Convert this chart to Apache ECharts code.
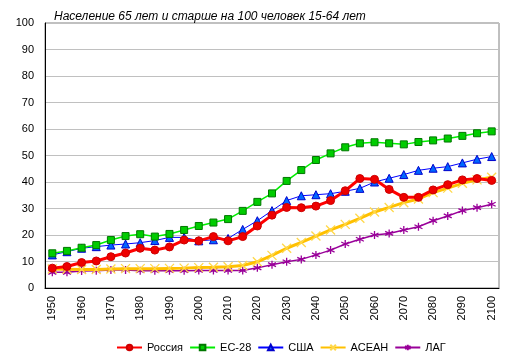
<!DOCTYPE html>
<html><head><meta charset="utf-8">
<script src="https://cdn.jsdelivr.net/npm/echarts@6/dist/echarts.min.js"></script>
<style>html,body{margin:0;padding:0;background:#fff}#c{width:513px;height:359px}</style>
</head><body><div id="c"></div>
<script>
var years = [];
for (var y = 1950; y <= 2100; y += 5) years.push(String(y));
var russia = [7.5, 8.1, 9.6, 10.2, 11.8, 13.2, 15.0, 14.3, 15.5, 18.1, 17.8, 19.4, 17.8, 19.4, 23.4, 27.5, 30.4, 30.3, 30.9, 33.0, 36.7, 41.3, 41.0, 37.2, 34.2, 34.2, 37.0, 39.0, 40.8, 41.3, 40.6];
var eu28 = [13.1, 14.0, 15.2, 16.2, 18.1, 19.6, 20.3, 19.4, 20.4, 21.9, 23.4, 24.7, 26.0, 29.1, 32.5, 35.7, 40.4, 44.5, 48.3, 50.8, 53.1, 54.6, 55.0, 54.6, 54.2, 55.1, 55.7, 56.4, 57.4, 58.4, 59.1];
var usa = [12.5, 13.7, 15.0, 15.6, 16.2, 16.6, 17.1, 17.9, 19.1, 19.1, 17.8, 18.2, 18.7, 22.1, 25.4, 29.2, 33.0, 34.8, 35.2, 35.6, 36.5, 37.6, 40.0, 41.4, 42.8, 44.4, 45.2, 45.8, 47.2, 48.6, 49.6];
var asean = [7.2, 7.1, 7.0, 7.0, 7.2, 7.3, 7.3, 7.3, 7.4, 7.5, 7.7, 7.8, 8.0, 8.5, 9.9, 12.3, 15.0, 17.2, 19.6, 21.9, 24.0, 26.3, 28.7, 30.4, 32.2, 33.6, 36.0, 37.7, 39.5, 40.8, 41.8];
var lag = [5.9, 5.9, 6.4, 6.5, 6.8, 6.8, 6.5, 6.5, 6.5, 6.5, 6.6, 6.6, 6.6, 6.6, 7.6, 8.8, 9.9, 10.8, 12.5, 14.3, 16.6, 18.4, 20.0, 20.6, 21.9, 23.1, 25.4, 27.2, 29.2, 30.3, 31.6];
var yTicks = [0, 10, 20, 30, 40, 50, 60, 70, 80, 90, 100];
var names = ['Россия', 'ЕС-28', 'США', 'АСЕАН', 'ЛАГ'];

var font = 'Liberation Sans, Arial, sans-serif';
var chart = echarts.init(document.getElementById('c'), null, {renderer: 'canvas'});
chart.setOption({
  animation: false,
  backgroundColor: '#fff',
  title: {
    text: 'Население 65 лет и старше на 100 человек 15-64 лет',
    left: 49, top: 6,
    textStyle: {fontFamily: font, fontSize: 12, fontStyle: 'italic', fontWeight: 'normal', color: '#000'}
  },
  legend: {
    data: names,
    left: 111, top: 337,
    itemWidth: 25, itemHeight: 7, itemGap: 6,
    textStyle: {fontFamily: font, fontSize: 11, color: '#000'}
  },
  grid: {left: 45, right: 14, top: 23, bottom: 71, show: true, borderColor: '#808080', borderWidth: 1},
  xAxis: {
    type: 'category', data: years, boundaryGap: true,
    axisLine: {lineStyle: {color: '#000', width: 1}},
    axisTick: {show: false},
    axisLabel: {rotate: 90, interval: 1, margin: 8, fontFamily: font, fontSize: 11, color: '#000'}
  },
  yAxis: {
    type: 'value', min: yTicks[0], max: yTicks[yTicks.length - 1], interval: 10,
    axisLine: {show: true, lineStyle: {color: '#000', width: 1}},
    axisTick: {show: false},
    axisLabel: {margin: 11, fontFamily: font, fontSize: 11, color: '#000'},
    splitLine: {lineStyle: {color: '#c0c0c0', width: 1}}
  },
  series: [
    {name: names[4], type: 'line', data: lag, symbol: 'path://M5,0L5,10M0.8,2.5L9.2,7.5M9.2,2.5L0.8,7.5', symbolSize: 8,
      lineStyle: {color: '#990099', width: 1.5}, itemStyle: {color: 'rgba(0,0,0,0)', borderColor: '#990099', borderWidth: 1.3}, z: 2},
    {name: names[3], type: 'line', data: asean, symbol: 'path://M0,0L10,10M10,0L0,10', symbolSize: 9,
      lineStyle: {color: '#ffc000', width: 3}, itemStyle: {color: 'rgba(0,0,0,0)', borderColor: '#ffd84a', borderWidth: 1.3}, z: 3},
    {name: names[2], type: 'line', data: usa, symbol: 'triangle', symbolSize: 8,
      lineStyle: {color: '#0000ff', width: 1}, itemStyle: {color: '#0066ff', borderColor: '#0000cc', borderWidth: 1}, z: 4},
    {name: names[1], type: 'line', data: eu28, symbol: 'rect', symbolSize: 7,
      lineStyle: {color: '#00ee00', width: 1.5}, itemStyle: {color: '#00cc00', borderColor: '#007700', borderWidth: 1}, z: 5},
    {name: names[0], type: 'line', data: russia, symbol: 'circle', symbolSize: 8,
      lineStyle: {color: '#ff0000', width: 3}, itemStyle: {color: '#ee0000', borderColor: '#cc0000', borderWidth: 1}, z: 6}
  ]
});
</script></body></html>
